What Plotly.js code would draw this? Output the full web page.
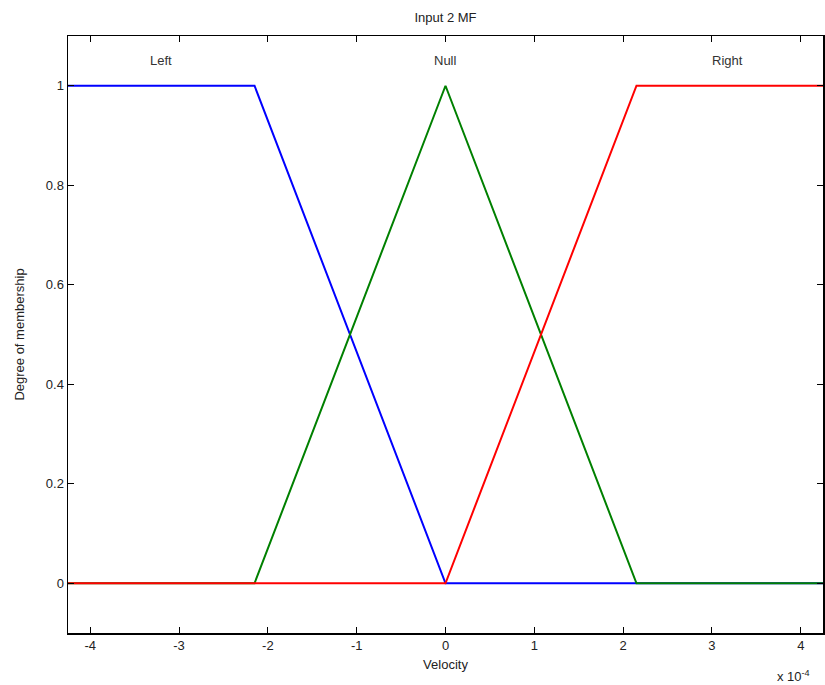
<!DOCTYPE html>
<html><head><meta charset="utf-8">
<script src="https://cdn.plot.ly/plotly-3.0.1.min.js"></script>
<style>html,body{margin:0;padding:0;background:#fff}#c{width:825px;height:685px}</style>
</head><body><div id="c"></div>
<script>
// x values in units of 1e-4
const leftX = [-4.25, -2.15, 0, 4.25];
const leftY = [1, 1, 0, 0];
const nullX = [-4.25, -2.15, 0, 2.15, 4.25];
const nullY = [0, 0, 1, 0, 0];
const rightX = [-4.25, 0, 2.15, 4.25];
const rightY = [0, 0, 1, 1];
const mfNames = ['Left', 'Null', 'Right'];
const mfLabelX = [-3.2, 0, 3.18];
const xTicks = [-4, -3, -2, -1, 0, 1, 2, 3, 4];
const yTicks = [0, 0.2, 0.4, 0.6, 0.8, 1];
const yTickText = ['0', '0.2', '0.4', '0.6', '0.8', '1'];

const font = {family: 'Liberation Sans, Arial, sans-serif', size: 13, color: '#222'};
const traces = [
  {x: leftX, y: leftY, mode: 'lines', line: {color: '#0000ff', width: 2}},
  {x: nullX, y: nullY, mode: 'lines', line: {color: '#008000', width: 2}},
  {x: rightX, y: rightY, mode: 'lines', line: {color: '#ff0000', width: 2}}
];
const annotations = mfNames.map((n, i) => ({
  x: mfLabelX[i], y: 1.05, xref: 'x', yref: 'y', text: n, showarrow: false,
  font: {family: font.family, size: 13, color: '#333'}
}));
annotations.push({
  xref: 'paper', yref: 'paper', x: 0.985, y: 0, yshift: -33, xanchor: 'right', yanchor: 'top',
  text: 'x 10<sup>-4</sup>', showarrow: false, font: {family: font.family, size: 13, color: '#222'}
});
const layout = {
  width: 825, height: 685,
  margin: {l: 68, r: 2, t: 36, b: 52},
  paper_bgcolor: '#fff', plot_bgcolor: '#fff',
  showlegend: false,
  font: font,
  title: {text: 'Input 2 MF', x: 0.54, xanchor: 'center', y: 0.975, yanchor: 'middle', font: {family: font.family, size: 13, color: '#222'}},
  xaxis: {
    range: [-4.25, 4.25], tickvals: xTicks, ticktext: xTicks.map(String),
    ticks: 'inside', ticklen: 6, tickcolor: '#000', tickwidth: 1,
    showline: true, linecolor: '#000', linewidth: 1.5, mirror: 'ticks',
    showgrid: false, zeroline: false,
    title: {text: 'Velocity', standoff: 8, font: {family: font.family, size: 13, color: '#222'}}
  },
  yaxis: {
    range: [-0.1, 1.1], tickvals: yTicks, ticktext: yTickText,
    ticks: 'inside', ticklen: 6, tickcolor: '#000', tickwidth: 1,
    showline: true, linecolor: '#000', linewidth: 1.5, mirror: 'ticks',
    showgrid: false, zeroline: false,
    title: {text: 'Degree of membership', standoff: 18, font: {family: font.family, size: 13, color: '#222'}}
  },
  annotations: annotations
};
Plotly.newPlot('c', traces, layout, {displayModeBar: false, staticPlot: true});
</script></body></html>
